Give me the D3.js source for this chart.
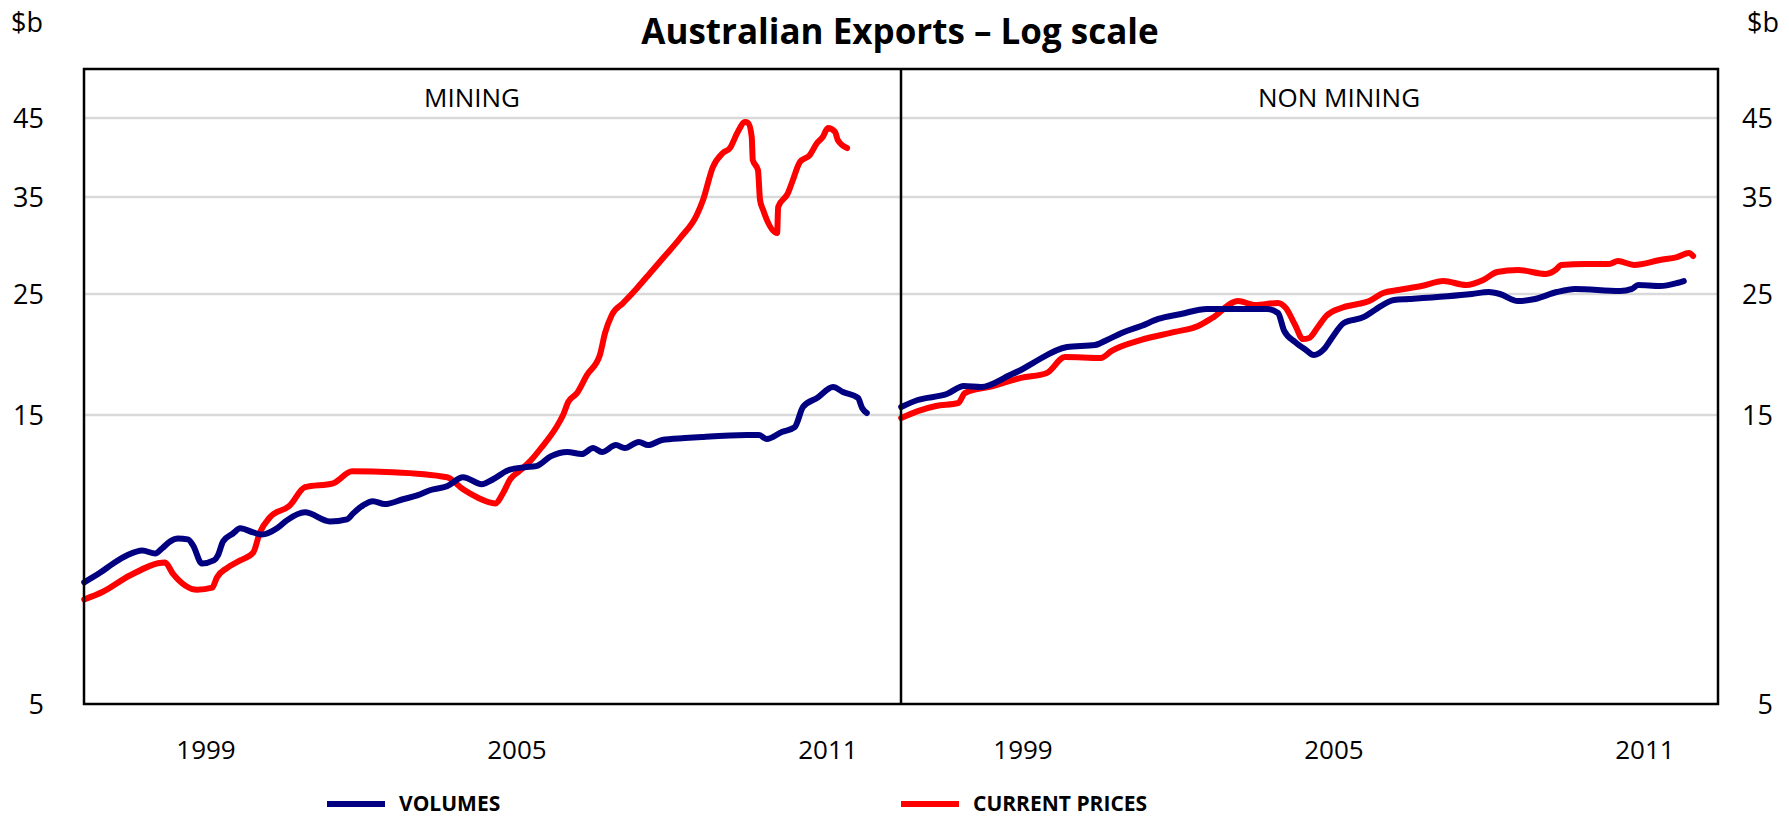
<!DOCTYPE html>
<html>
<head>
<meta charset="utf-8">
<script src="https://cdn.jsdelivr.net/npm/d3@7"></script>
<style>
  body { margin: 0; background: #fff; }
  svg text { font-family: "Open Sans", "DejaVu Sans", sans-serif; fill: #000; }
</style>
</head>
<body>
<svg id="chart" width="1789" height="817"></svg>
<script>
// Australian exports, $b, log scale
var panels  = ["MINING", "NON MINING"];
var yTicks  = [5, 15, 25, 35, 45];
var xTicks  = [1999, 2005, 2011];
var legend  = ["VOLUMES", "CURRENT PRICES"];

var miningVolumes = [
  [1996.65, 7.94], [1996.96, 8.24], [1997.21, 8.53], [1997.48, 8.80], [1997.77, 8.96],
  [1998.02, 8.86], [1998.15, 9.03], [1998.31, 9.28], [1998.46, 9.38], [1998.65, 9.35],
  [1998.75, 9.14], [1998.92, 8.53], [1999.15, 8.63], [1999.23, 8.80], [1999.33, 9.28],
  [1999.52, 9.56], [1999.66, 9.75], [1999.91, 9.60], [2000.08, 9.52], [2000.37, 9.75],
  [2000.56, 10.05], [2000.91, 10.36], [2001.39, 10.01], [2001.72, 10.09], [2001.84, 10.32],
  [2002.03, 10.64], [2002.22, 10.81], [2002.45, 10.69], [2002.80, 10.89], [2003.09, 11.06],
  [2003.32, 11.27], [2003.65, 11.44], [2003.96, 11.84], [2004.32, 11.53], [2004.54, 11.75],
  [2004.83, 12.16], [2005.15, 12.30], [2005.37, 12.35], [2005.66, 12.83], [2005.97, 13.03],
  [2006.25, 12.93], [2006.47, 13.23], [2006.64, 13.03], [2006.91, 13.38], [2007.08, 13.23],
  [2007.35, 13.54], [2007.53, 13.38], [2007.80, 13.64], [2008.24, 13.74], [2008.57, 13.80],
  [2009.44, 13.90], [2009.67, 13.90], [2009.82, 13.69], [2010.11, 14.06], [2010.36, 14.33],
  [2010.52, 15.52], [2010.79, 16.12], [2011.10, 16.88], [2011.29, 16.53], [2011.58, 16.12],
  [2011.66, 15.45], [2011.75, 15.13]
];
var miningPrices = [
  [1996.65, 7.44], [1997.01, 7.66], [1997.53, 8.15], [1998.21, 8.56], [1998.36, 8.21],
  [1998.83, 7.72], [1999.12, 7.78], [1999.21, 8.09], [1999.41, 8.39], [1999.66, 8.63],
  [1999.91, 8.89], [2000.04, 9.60], [2000.23, 10.16], [2000.62, 10.64], [2000.91, 11.40],
  [2001.45, 11.57], [2001.82, 12.11], [2002.61, 12.07], [2003.65, 11.84], [2003.96, 11.31],
  [2004.23, 10.97], [2004.58, 10.72], [2004.73, 11.14], [2004.87, 11.75], [2005.04, 12.11],
  [2005.27, 12.63], [2005.48, 13.28], [2005.75, 14.28], [2005.89, 15.00], [2005.99, 15.85],
  [2006.16, 16.46], [2006.35, 17.76], [2006.60, 19.32], [2006.70, 21.21], [2006.83, 22.88],
  [2007.05, 24.07], [2007.32, 25.53], [2007.57, 26.89], [2007.82, 28.33], [2008.15, 30.36],
  [2008.47, 32.88], [2008.59, 34.64], [2008.78, 38.50], [2008.97, 40.25], [2009.11, 40.90],
  [2009.25, 42.90], [2009.40, 44.43], [2009.46, 44.29], [2009.53, 42.36], [2009.55, 39.37],
  [2009.65, 38.14], [2009.69, 34.64], [2009.75, 33.46], [2010.02, 30.89], [2010.04, 33.81],
  [2010.23, 35.45], [2010.31, 36.71], [2010.46, 39.12], [2010.65, 40.00], [2010.79, 41.56],
  [2010.90, 42.36], [2011.00, 43.59], [2011.14, 43.04], [2011.19, 41.96], [2011.37, 40.90]
];
var nonMiningVolumes = [
  [1996.65, 15.52], [1996.97, 15.98], [1997.53, 16.39], [1997.86, 16.95], [1998.19, 16.88],
  [1998.75, 17.76], [1998.96, 18.14], [1999.19, 18.68], [1999.85, 19.99], [2000.39, 20.16],
  [2000.62, 20.59], [2000.95, 21.30], [2001.28, 21.84], [2001.61, 22.50], [2002.05, 22.98],
  [2002.55, 23.47], [2003.03, 23.47], [2003.71, 23.47], [2003.92, 23.07], [2004.04, 21.39],
  [2004.25, 20.42], [2004.46, 19.74], [2004.61, 19.32], [2004.81, 19.82], [2004.96, 20.76],
  [2005.19, 22.12], [2005.58, 22.69], [2005.79, 23.37], [2006.16, 24.38], [2006.45, 24.48],
  [2007.66, 25.00], [2007.99, 25.17], [2008.20, 25.00], [2008.55, 24.27], [2008.88, 24.48],
  [2009.30, 25.17], [2009.65, 25.44], [2010.52, 25.26], [2010.75, 25.44], [2010.87, 25.79],
  [2011.29, 25.70], [2011.62, 25.97], [2011.75, 26.15]
];
var nonMiningPrices = [
  [1996.65, 14.83], [1996.97, 15.25], [1997.32, 15.58], [1997.75, 15.78], [1997.88, 16.46],
  [1998.42, 16.95], [1998.96, 17.54], [1999.46, 17.91], [1999.81, 19.16], [2000.50, 19.08],
  [2000.71, 19.66], [2001.28, 20.59], [2001.93, 21.30], [2002.38, 21.84], [2002.65, 22.59],
  [2003.15, 24.27], [2003.48, 23.87], [2003.92, 24.07], [2004.07, 23.57], [2004.25, 21.93],
  [2004.40, 20.67], [2004.52, 20.76], [2004.69, 21.75], [2004.85, 22.78], [2005.14, 23.57],
  [2005.47, 23.97], [2005.68, 24.27], [2005.95, 25.09], [2006.24, 25.35], [2006.69, 25.70],
  [2007.11, 26.15], [2007.55, 25.79], [2007.88, 26.24], [2008.15, 26.98], [2008.55, 27.17],
  [2009.09, 26.80], [2009.30, 27.27], [2009.38, 27.65], [2009.86, 27.74], [2010.31, 27.74],
  [2010.48, 28.03], [2010.79, 27.65], [2011.29, 28.13], [2011.62, 28.42], [2011.85, 28.82],
  [2011.93, 28.52]
];

var panelData = [
  [miningVolumes, miningPrices],
  [nonMiningVolumes, nonMiningPrices]
];
var colors = ["#000080", "#ff0000"];

var svg     = d3.select("#chart");
var frameL  = 84, frameR = 1718, frameT = 69, frameB = 704;
var panelW  = (frameR - frameL) / 2;
var plotH   = frameB - frameT;

// the axis is not a clean log scale: gridlines sit where the original chart put them
var yStops = [1, 0.5449, 0.3543, 0.2016, 0.0772];
var yLog = d3.scaleLinear()
    .domain(yTicks.map(Math.log))
    .range(yStops.map(function(f) { return frameT + f * plotH; }));
var y = function(v) { return yLog(Math.log(v)); };

// gridlines (not for the bottom value)
svg.selectAll("line.grid")
    .data(yTicks.slice(1))
    .enter().append("line")
    .attr("class", "grid")
    .attr("x1", frameL).attr("x2", frameR)
    .attr("y1", function(d) { return y(d); })
    .attr("y2", function(d) { return y(d); })
    .attr("stroke", "#d9d9d9")
    .attr("stroke-width", 2.5);

// y labels both sides
[44, 1773].forEach(function(lx) {
  svg.selectAll(null)
      .data(yTicks)
      .enter().append("text")
      .attr("x", lx)
      .attr("y", function(d) { return y(d); })
      .attr("dy", "0.36em")
      .attr("text-anchor", "end")
      .style("font-size", "27px")
      .text(function(d) { return d; });
});

svg.append("text").attr("x", 11).attr("y", 32).style("font-size", "27px").text("$b");
svg.append("text").attr("x", 1747).attr("y", 32).style("font-size", "27px").text("$b");

svg.append("text")
    .attr("x", 900).attr("y", 44)
    .attr("text-anchor", "middle")
    .style("font-size", "35px").style("font-weight", "bold")
    .text("Australian Exports \u2013 Log scale");

var labelX = [472, 1339];

panels.forEach(function(name, p) {
  var x0 = frameL + p * panelW;
  var x = d3.scaleLinear().domain([1996.646, 2012.41]).range([x0, x0 + panelW]);

  svg.append("text")
      .attr("x", labelX[p]).attr("y", 107)
      .attr("text-anchor", "middle")
      .style("font-size", "26px")
      .text(name);

  svg.selectAll(null)
      .data(xTicks)
      .enter().append("text")
      .attr("x", function(d) { return x(d); })
      .attr("y", 759)
      .attr("text-anchor", "middle")
      .style("font-size", "26px")
      .text(function(d) { return d; });

  var line = d3.line()
      .x(function(d) { return x(d[0]); })
      .y(function(d) { return y(d[1]); })
      .curve(d3.curveMonotoneX);

  // prices drawn first, volumes on top
  [1, 0].forEach(function(s) {
    svg.append("path")
        .datum(panelData[p][s])
        .attr("d", line)
        .attr("fill", "none")
        .attr("stroke", colors[s])
        .attr("stroke-width", 6)
        .attr("stroke-linejoin", "round")
        .attr("stroke-linecap", "round");
  });
});

// frame and divider
svg.append("rect")
    .attr("x", frameL).attr("y", frameT)
    .attr("width", frameR - frameL).attr("height", frameB - frameT)
    .attr("fill", "none").attr("stroke", "#000").attr("stroke-width", 2.5);
svg.append("line")
    .attr("x1", frameL + panelW).attr("x2", frameL + panelW)
    .attr("y1", frameT).attr("y2", frameB)
    .attr("stroke", "#000").attr("stroke-width", 2.5);

// legend
var legendX = [327, 901];
legend.forEach(function(name, i) {
  svg.append("line")
      .attr("x1", legendX[i]).attr("x2", legendX[i] + 58)
      .attr("y1", 804).attr("y2", 804)
      .attr("stroke", colors[i]).attr("stroke-width", 6);
  svg.append("text")
      .attr("x", legendX[i] + 72).attr("y", 804)
      .attr("dy", "0.35em")
      .style("font-size", "21px").style("font-weight", "bold")
      .text(name);
});
</script>
</body>
</html>
